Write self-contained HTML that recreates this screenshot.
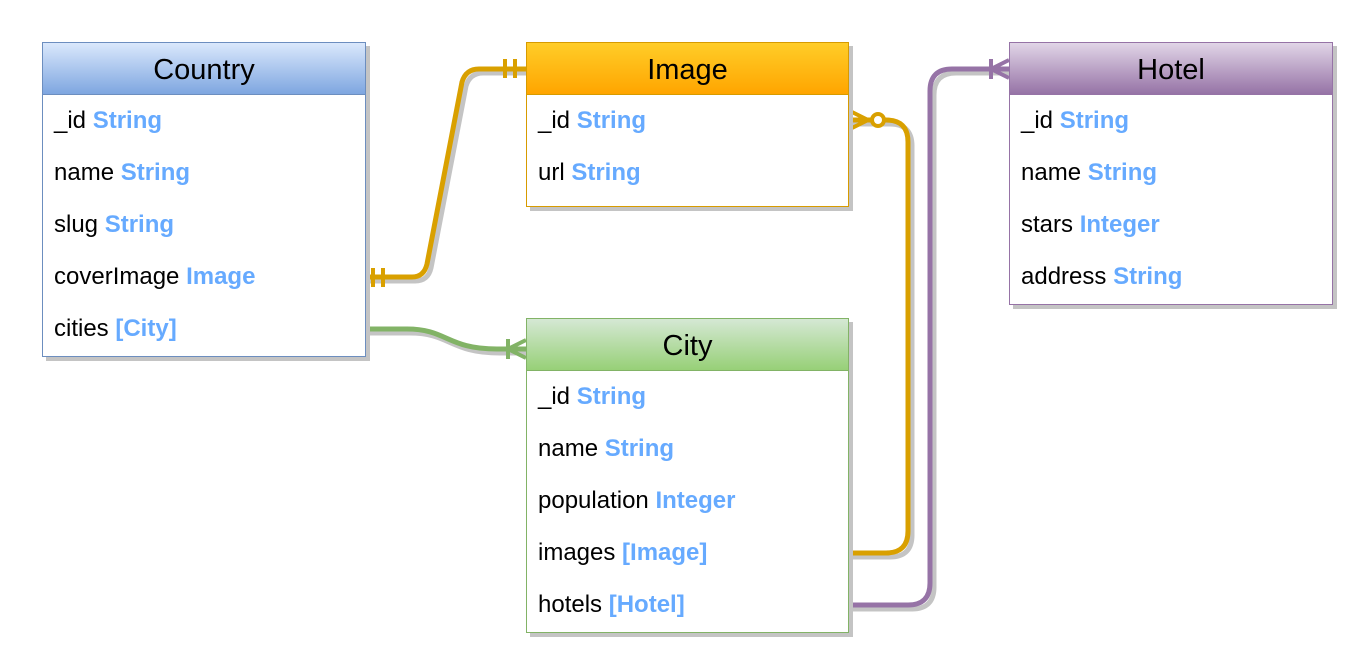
<!DOCTYPE html>
<html><head><style>
body{margin:0;width:1360px;height:663px;background:#fff;position:relative;font-family:"Liberation Sans",sans-serif;overflow:hidden}
.box{position:absolute;background:#fff;box-shadow:4px 4px 0 #c4c4c4;box-sizing:border-box}
.hd{height:52px;line-height:54px;text-align:center;font-size:29px;color:#000;box-sizing:border-box}
.r{height:52px;line-height:52px;padding-left:11px;font-size:24px;color:#000}
.r b{color:#66aaff;font-weight:bold}
svg{position:absolute;left:0;top:0}
</style></head><body>
<svg width="1360" height="663">
<g fill="none" stroke="#c4c4c4" stroke-width="5">
<path d="M368 281 H415 Q428 281 431 268 L466 86 Q470 73 483 73 H530"/>
<path d="M368 333 H410 C450 333 450 353 500 353 H530"/>
<path d="M852 124 H890 Q912 124 912 146 V535 Q912 557 890 557 H852"/>
<path d="M852 609 H912 Q934 609 934 587 V95 Q934 73 956 73 H1013"/>
</g>
<g fill="none" stroke-width="5">
<path stroke="#d9a000" d="M365 277 H412 Q424 277 427 264 L462 82 Q466 69 479 69 H526"/>
<path stroke="#82b366" d="M365 329 H407 C447 329 447 349 497 349 H526"/>
<path stroke="#d9a000" d="M848 120 H886 Q908 120 908 142 V531 Q908 553 886 553 H848"/>
<path stroke="#9673a6" d="M848 605 H908 Q930 605 930 583 V91 Q930 69 952 69 H1009"/>
</g>
<g stroke-width="4" fill="none">
<path stroke="#d9a000" d="M373 268V287M383 268V287M505 59V78M515 59V78"/>
<path stroke="#82b366" d="M508 339V359M526 340L508 349L526 358"/>
<path stroke="#d9a000" d="M848 110L868 120L848 130"/>
<circle cx="878" cy="120" r="6" stroke="#d9a000" fill="#fff"/>
<path stroke="#9673a6" d="M991 59V79M1009 60L991 69L1009 78"/>
</g>
</svg>
<div class="box" style="left:42px;top:42px;width:324px;height:315px;border:1.5px solid #6c8ebf">
<div class="hd" style="background:linear-gradient(#dae8fc,#7ea6e0);border-bottom:1px solid #6c8ebf">Country</div>
<div class="r">_id <b>String</b></div><div class="r">name <b>String</b></div><div class="r">slug <b>String</b></div><div class="r">coverImage <b>Image</b></div><div class="r">cities <b>[City]</b></div>
</div>
<div class="box" style="left:526px;top:42px;width:323px;height:165px;border:1.5px solid #d79b00">
<div class="hd" style="background:linear-gradient(#ffcd28,#ffa500);border-bottom:1px solid #d79b00">Image</div>
<div class="r">_id <b>String</b></div><div class="r">url <b>String</b></div>
</div>
<div class="box" style="left:526px;top:318px;width:323px;height:315px;border:1.5px solid #82b366">
<div class="hd" style="background:linear-gradient(#d5e8d4,#97d077);border-bottom:1px solid #82b366">City</div>
<div class="r">_id <b>String</b></div><div class="r">name <b>String</b></div><div class="r">population <b>Integer</b></div><div class="r">images <b>[Image]</b></div><div class="r">hotels <b>[Hotel]</b></div>
</div>
<div class="box" style="left:1009px;top:42px;width:324px;height:263px;border:1.5px solid #9673a6">
<div class="hd" style="background:linear-gradient(#e1d5e7,#9673a6);border-bottom:1px solid #9673a6">Hotel</div>
<div class="r">_id <b>String</b></div><div class="r">name <b>String</b></div><div class="r">stars <b>Integer</b></div><div class="r">address <b>String</b></div>
</div>
</body></html>
